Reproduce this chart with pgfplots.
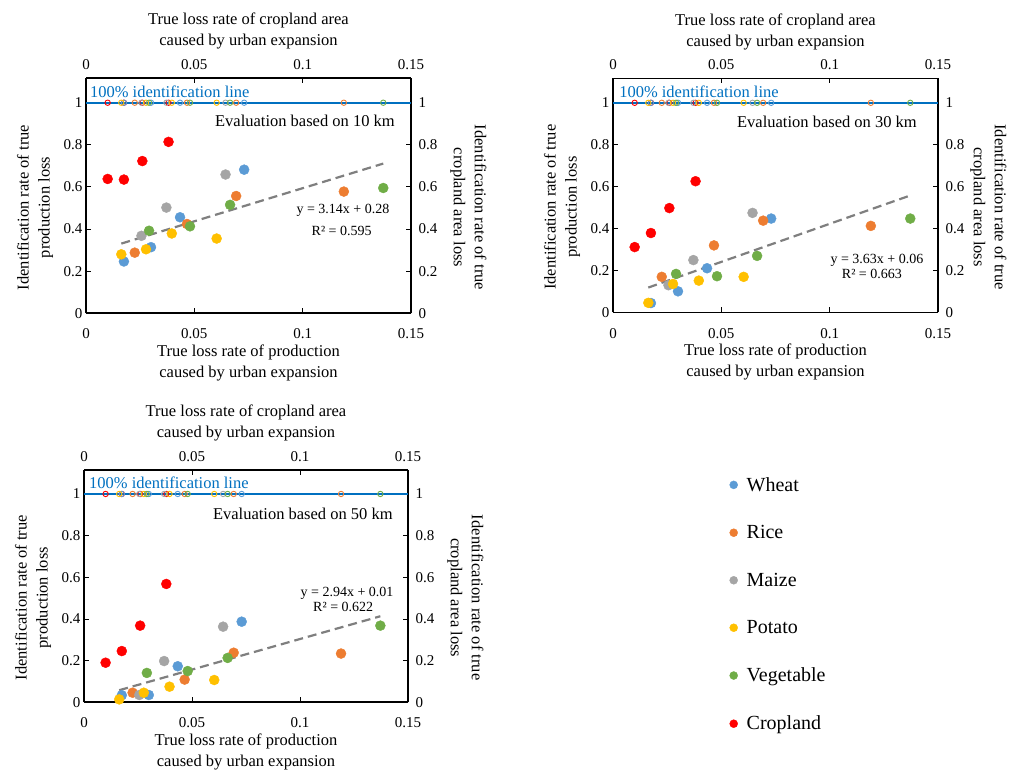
\documentclass[border=0pt]{standalone}
\usepackage{pgfplots}
\pgfplotsset{compat=1.18}
\usepackage{fontspec}
\setmainfont{Liberation Serif}
\definecolor{cW}{HTML}{5B9BD5}
\definecolor{cR}{HTML}{ED7D31}
\definecolor{cM}{HTML}{A5A5A5}
\definecolor{cP}{HTML}{FFC000}
\definecolor{cV}{HTML}{70AD47}
\definecolor{cC}{HTML}{FF0000}
\definecolor{idline}{HTML}{0070C0}
\definecolor{trend}{HTML}{7F7F7F}
\tikzset{
  lab/.style={font=\fontsize{16.5}{20}\selectfont},
  eqn/.style={font=\fontsize{14}{17}\selectfont, align=center},
  axl/.style={font=\fontsize{16.5}{21}\selectfont, align=center, anchor=center},
}
\pgfplotsset{
  base/.style={scale only axis, xmin=0, xmax=0.15, ymin=0, ymax=1.116,
    xtick={0,0.05,0.1,0.15}, xticklabels={0,0.05,0.1,0.15},
    ytick={0,0.2,0.4,0.6,0.8,1}, yticklabels={0,0.2,0.4,0.6,0.8,1},
    tick align=inside, major tick length=5pt,
    axis line style={line width=1.6pt, black},
    every tick/.style={black, line width=0.9pt},
    tick label style={font=\fontsize{15}{18}\selectfont},
    /pgf/number format/assume math mode=true,
    clip=false},
  bot/.style={base, axis x line*=bottom, axis y line*=left,
    xticklabel style={yshift=-12pt}},
  top/.style={base, axis x line*=top, axis y line*=right,
    xticklabel style={yshift=5pt}, yticklabel style={xshift=4pt}},
  fm/.style={only marks, mark=*, mark size=5pt, mark options={draw=#1, fill=#1}},
  om/.style={only marks, mark=o, mark size=2.7pt, mark options={draw=#1, line width=0.9pt}, forget plot},
  idl/.style={idline, line width=2.2pt, forget plot},
  tr/.style={trend, line width=2.2pt, dash pattern=on 9pt off 5pt, forget plot},
}
\newcommand{\axlabels}[1]{%
  \node[axl] at (axis description cs:0.5,-0.213) {True loss rate of production\\caused by urban expansion};
  \node[axl, rotate=90] at (axis description cs:-0.157,0.45) {Identification rate of true\\production loss};
  \node[axl] at (axis description cs:0.5,1.2) {True loss rate of cropland area\\caused by urban expansion};
  \node[axl, rotate=-90] at (axis description cs:#1,0.45) {Identification rate of true\\cropland area loss};
}
\newcommand{\topcircles}{%
  \addplot[idl] coordinates {(0,1) (0.15,1)};
  \addplot[om=cC] coordinates {(0.0100,1) (0.0175,1) (0.0260,1) (0.0381,1)};
  \addplot[om=cW] coordinates {(0.0175,1) (0.0300,1) (0.0434,1) (0.0730,1)};
  \addplot[om=cR] coordinates {(0.0225,1) (0.0466,1) (0.0693,1) (0.1190,1)};
  \addplot[om=cM] coordinates {(0.0256,1) (0.0371,1) (0.0644,1)};
  \addplot[om=cP] coordinates {(0.0163,1) (0.0277,1) (0.0396,1) (0.0603,1)};
  \addplot[om=cV] coordinates {(0.0291,1) (0.0480,1) (0.0665,1) (0.1372,1)};
}
\begin{document}
\begin{tikzpicture}[x=1pt,y=1pt]
\path[use as bounding box] (0,0) rectangle (1011,770);
% ---------- panel 1 (10 km)
\begin{axis}[top, at={(86pt,456.7pt)}, anchor=south west, width=325pt, height=235pt]
\end{axis}
\begin{axis}[bot, at={(86pt,456.7pt)}, anchor=south west, width=325pt, height=235pt]
\topcircles
\addplot[tr] coordinates {(0.0163,0.331) (0.1372,0.711)};
\addplot[fm=cW] coordinates {(0.0175,0.246) (0.0300,0.314) (0.0434,0.456) (0.0730,0.682)};
\addplot[fm=cR] coordinates {(0.0225,0.288) (0.0466,0.424) (0.0693,0.557) (0.1190,0.578)};
\addplot[fm=cM] coordinates {(0.0256,0.368) (0.0371,0.502) (0.0644,0.659)};
\addplot[fm=cP] coordinates {(0.0163,0.280) (0.0277,0.304) (0.0396,0.379) (0.0603,0.355)};
\addplot[fm=cV] coordinates {(0.0291,0.392) (0.0480,0.413) (0.0665,0.515) (0.1372,0.595)};
\addplot[fm=cC] coordinates {(0.0100,0.638) (0.0175,0.635) (0.0260,0.723) (0.0381,0.814)};
\node[lab, text=idline, anchor=west, inner sep=0pt] at (axis cs:0.0018,1.051) {100\% identification line};
\node[lab, anchor=east, inner sep=0pt] at (axis cs:0.1426,0.913) {Evaluation based on 10 km};
\node[eqn] at (axis cs:0.1186,0.49) {y = 3.14x + 0.28};
\node[eqn] at (axis cs:0.118,0.391) {R² = 0.595};
\axlabels{1.177}
\end{axis}
% ---------- panel 2 (30 km)
\begin{axis}[top, at={(613pt,457.5pt)}, anchor=south west, width=325pt, height=234pt]
\end{axis}
\begin{axis}[bot, at={(613pt,457.5pt)}, anchor=south west, width=325pt, height=234pt]
\topcircles
\addplot[tr] coordinates {(0.0163,0.119) (0.1372,0.558)};
\addplot[fm=cW] coordinates {(0.0175,0.045) (0.0300,0.101) (0.0434,0.211) (0.0730,0.448)};
\addplot[fm=cR] coordinates {(0.0225,0.170) (0.0466,0.320) (0.0693,0.438) (0.1190,0.413)};
\addplot[fm=cM] coordinates {(0.0256,0.130) (0.0371,0.250) (0.0644,0.475)};
\addplot[fm=cP] coordinates {(0.0163,0.046) (0.0277,0.136) (0.0396,0.152) (0.0603,0.170)};
\addplot[fm=cV] coordinates {(0.0291,0.184) (0.0480,0.173) (0.0665,0.270) (0.1372,0.448)};
\addplot[fm=cC] coordinates {(0.0100,0.312) (0.0175,0.379) (0.0260,0.498) (0.0381,0.626)};
\node[lab, text=idline, anchor=west, inner sep=0pt] at (axis cs:0.0028,1.051) {100\% identification line};
\node[lab, anchor=east, inner sep=0pt] at (axis cs:0.1403,0.907) {Evaluation based on 30 km};
\node[eqn] at (axis cs:0.1218,0.251) {y = 3.63x + 0.06};
\node[eqn] at (axis cs:0.1195,0.183) {R² = 0.663};
\axlabels{1.155}
\end{axis}
% ---------- panel 3 (50 km)
\begin{axis}[top, at={(84pt,67.7pt)}, anchor=south west, width=324pt, height=232.5pt]
\end{axis}
\begin{axis}[bot, at={(84pt,67.7pt)}, anchor=south west, width=324pt, height=232.5pt,
  legend style={at={(axis description cs:1.983,0.982)}, anchor=north west, draw=none, fill=none,
    font=\fontsize{20}{24}\selectfont, row sep=30.8pt, legend cell align=left,
    nodes={inner sep=1pt}},
  legend image code/.code={\path[draw=none, fill=none] (0pt,0pt) -- (16pt,0pt); \draw[#1, only marks, mark size=4pt] plot coordinates {(4pt,0pt)};}]
\addplot[fm=cW] coordinates {(0.0175,0.034) (0.0300,0.035) (0.0434,0.173) (0.0730,0.387)};
\addplot[fm=cR] coordinates {(0.0225,0.046) (0.0466,0.109) (0.0693,0.238) (0.1190,0.234)};
\addplot[fm=cM] coordinates {(0.0256,0.035) (0.0371,0.198) (0.0644,0.363)};
\addplot[fm=cP] coordinates {(0.0163,0.014) (0.0277,0.046) (0.0396,0.075) (0.0603,0.107)};
\addplot[fm=cV] coordinates {(0.0291,0.141) (0.0480,0.150) (0.0665,0.213) (0.1372,0.368)};
\addplot[fm=cC] coordinates {(0.0100,0.190) (0.0175,0.246) (0.0260,0.368) (0.0381,0.568)};
\topcircles
\addplot[tr] coordinates {(0.0163,0.058) (0.1372,0.413)};
\node[lab, text=idline, anchor=west, inner sep=0pt] at (axis cs:0.0023,1.054) {100\% identification line};
\node[lab, anchor=east, inner sep=0pt] at (axis cs:0.143,0.905) {Evaluation based on 50 km};
\node[eqn] at (axis cs:0.1218,0.525) {y = 2.94x + 0.01};
\node[eqn] at (axis cs:0.12,0.458) {R² = 0.622};
\axlabels{1.177}
\legend{Wheat,Rice,Maize,Potato,Vegetable,Cropland}
\end{axis}
\end{tikzpicture}
\end{document}
